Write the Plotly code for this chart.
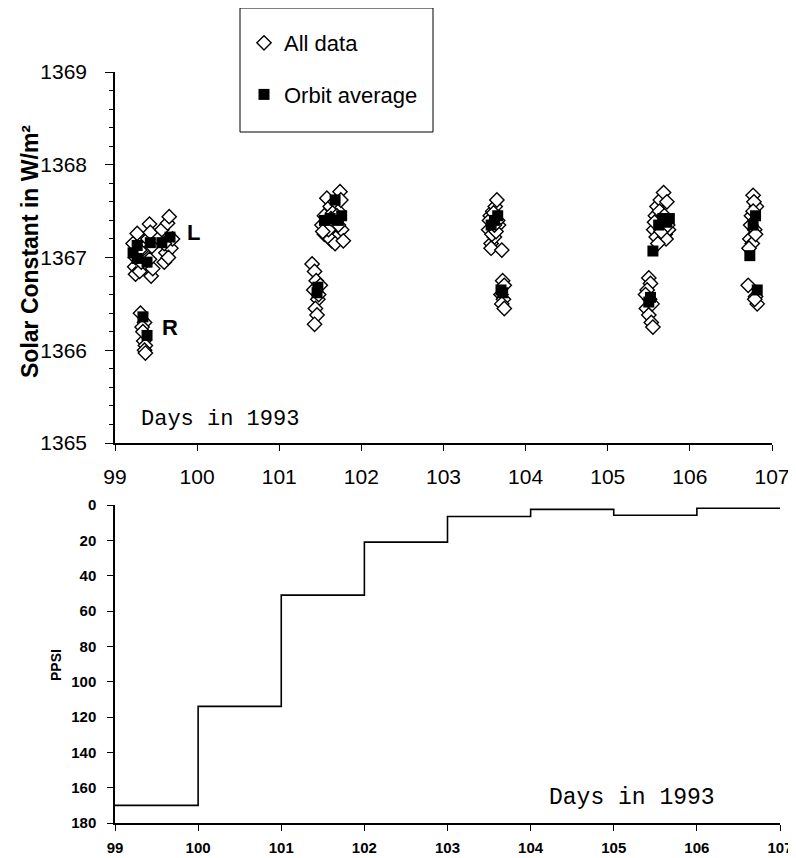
import plotly.graph_objects as go

# ---------------- data ----------------
# All data (diamonds)
all_days = [
    # day 99 upper
    99.22, 99.24, 99.25, 99.27, 99.28, 99.30, 99.32, 99.35, 99.40, 99.42, 99.43, 99.44, 99.46,
    99.57, 99.60, 99.62, 99.64, 99.66, 99.68, 99.70, 99.25, 99.30, 99.42, 99.45, 99.60, 99.65,
    # day 99 lower (R)
    99.31, 99.36, 99.33, 99.35, 99.37, 99.36, 99.37, 99.34,
    # day 101 upper
    101.52, 101.55, 101.58, 101.60, 101.62, 101.64, 101.66, 101.68, 101.70, 101.72, 101.74, 101.76,
    101.55, 101.58, 101.62, 101.65, 101.68, 101.72, 101.75, 101.60, 101.63, 101.70, 101.53, 101.78,
    # day 101 lower
    101.40, 101.43, 101.45, 101.42, 101.47, 101.44, 101.46, 101.43, 101.48, 101.50,
    # day 103 upper
    103.55, 103.57, 103.58, 103.60, 103.62, 103.63, 103.65, 103.67, 103.56, 103.59, 103.61, 103.64,
    103.66, 103.58, 103.62, 103.71,
    # day 103 lower
    103.72, 103.74, 103.70, 103.73, 103.71, 103.74,
    # day 105 upper
    105.56, 105.58, 105.60, 105.62, 105.64, 105.66, 105.68, 105.70, 105.72, 105.74, 105.59, 105.63,
    105.67, 105.71, 105.57, 105.65, 105.69, 105.73, 105.61,
    # day 105 lower
    105.50, 105.52, 105.48, 105.51, 105.47, 105.50, 105.53, 105.55, 105.46, 105.54,
    # day 106 upper
    106.73, 106.75, 106.77, 106.79, 106.81, 106.74, 106.76, 106.78, 106.80, 106.72, 106.77,
    # day 106 lower
    106.71, 106.80, 106.82, 106.79,
]
all_values = [
    1367.15, 1366.90, 1366.82, 1367.26, 1367.05, 1366.85, 1366.95, 1367.10, 1367.20, 1367.36, 1367.27, 1366.80, 1366.88,
    1367.30, 1366.95, 1367.05, 1367.37, 1367.44, 1367.10, 1367.20, 1367.00, 1367.08, 1366.98, 1367.12, 1367.15, 1367.00,
    1366.40, 1366.30, 1366.25, 1366.10, 1366.05, 1366.00, 1365.97, 1366.20,
    1367.35, 1367.45, 1367.64, 1367.25, 1367.55, 1367.18, 1367.30, 1367.60, 1367.22, 1367.50, 1367.71, 1367.30,
    1367.25, 1367.40, 1367.20, 1367.48, 1367.15, 1367.35, 1367.62, 1367.30, 1367.42, 1367.45, 1367.28, 1367.18,
    1366.93, 1366.85, 1366.75, 1366.65, 1366.55, 1366.45, 1366.38, 1366.28, 1366.60, 1366.70,
    1367.30, 1367.45, 1367.15, 1367.50, 1367.22, 1367.55, 1367.62, 1367.35, 1367.40, 1367.25, 1367.48, 1367.28,
    1367.40, 1367.10, 1367.35, 1367.08,
    1366.75, 1366.70, 1366.60, 1366.55, 1366.50, 1366.45,
    1367.30, 1367.45, 1367.55, 1367.20, 1367.62, 1367.35, 1367.70, 1367.25, 1367.60, 1367.30, 1367.22, 1367.50,
    1367.40, 1367.20, 1367.38, 1367.28, 1367.45, 1367.35, 1367.15,
    1366.78, 1366.72, 1366.65, 1366.55, 1366.45, 1366.38, 1366.30, 1366.25, 1366.60, 1366.50,
    1367.20, 1367.45, 1367.67, 1367.30, 1367.55, 1367.35, 1367.15, 1367.60, 1367.25, 1367.10, 1367.50,
    1366.70, 1366.58, 1366.50, 1366.55,
]

# Orbit averages (filled squares)
orbit_days = [
    99.22, 99.27, 99.27, 99.39, 99.43, 99.57, 99.67, 99.34, 99.39,
    101.47, 101.46, 101.55, 101.62, 101.68, 101.72, 101.76,
    103.58, 103.62, 103.66, 103.70, 103.72,
    105.55, 105.50, 105.52, 105.62, 105.67, 105.72, 105.75,
    106.73, 106.77, 106.80, 106.82,
]
orbit_values = [
    1367.05, 1367.13, 1366.99, 1366.95, 1367.16, 1367.16, 1367.22, 1366.36, 1366.16,
    1366.68, 1366.62, 1367.40, 1367.42, 1367.62, 1367.40, 1367.45,
    1367.35, 1367.40, 1367.45, 1366.65, 1366.62,
    1367.07, 1366.52, 1366.57, 1367.35, 1367.42, 1367.38, 1367.42,
    1367.02, 1367.35, 1367.45, 1366.65,
]

# PPSI step profile (value holds from each day to the next)
ppsi_days = [99, 100, 101, 102, 103, 104, 105, 106, 107]
ppsi_values = [170, 114, 51, 21, 6.5, 2.5, 5.8, 1.8, 1.8]

top_x_ticks = [99, 100, 101, 102, 103, 104, 105, 106, 107]
top_y_ticks = [1365, 1366, 1367, 1368, 1369]
bot_y_ticks = [0, 20, 40, 60, 80, 100, 120, 140, 160, 180]

# ---------------- figure ----------------
# The page body adds an 8px margin, so the figure is 8px smaller than the window
OFF = 8
W, H = 796 - OFF, 858 - OFF
SANS = "Liberation Sans, Arial, sans-serif"
MONO = "Liberation Mono, Courier New, monospace"

def px_x(p):
    return (p - OFF) / W

def px_y(p):
    return 1 - (p - OFF) / H

fig = go.Figure()

fig.add_trace(go.Scatter(
    x=all_days, y=all_values, mode="markers", name="All data",
    legendgroup="a",
    marker=dict(symbol="diamond", size=11, color="white",
                line=dict(color="black", width=1.4)),
    xaxis="x", yaxis="y",
))
fig.add_trace(go.Scatter(
    x=orbit_days, y=orbit_values, mode="markers", name="Orbit average",
    legendgroup="b",
    marker=dict(symbol="square", size=11, color="black",
                line=dict(color="black", width=0)),
    xaxis="x", yaxis="y",
))
fig.add_trace(go.Scatter(
    x=ppsi_days, y=ppsi_values, mode="lines", line_shape="hv",
    line=dict(color="black", width=1.6), showlegend=False,
    xaxis="x2", yaxis="y2",
))

axis_common = dict(
    showgrid=False, zeroline=False, showline=True, linecolor="black",
    linewidth=1.5, ticks="outside", tickcolor="black", tickwidth=1.2,
    automargin=False,
)

fig.update_layout(
    template="none",
    width=W, height=H,
    margin=dict(l=0, r=0, t=0, b=0, autoexpand=False),
    paper_bgcolor="white", plot_bgcolor="white",
    showlegend=True,
    legend=dict(
        x=px_x(244), y=px_y(22), xanchor="left", yanchor="top",
        borderwidth=0, bgcolor="rgba(0,0,0,0)",
        font=dict(family=SANS, size=22, color="black"),
        tracegroupgap=20, itemsizing="trace",
    ),
    xaxis=dict(
        **axis_common, domain=[px_x(115), px_x(772)], range=[99, 107],
        tickvals=top_x_ticks, ticklen=6, ticklabelstandoff=8,
        tickfont=dict(family=SANS, size=21, color="black"),
        anchor="y",
    ),
    yaxis=dict(
        **axis_common, domain=[px_y(443), px_y(72)], range=[1365, 1369],
        tickvals=top_y_ticks, ticklen=8, ticklabelstandoff=14,
        tickfont=dict(family=SANS, size=21, color="black"),
        minor=dict(dtick=0.2, ticks="outside", ticklen=4, tickcolor="black", tickwidth=1),
        anchor="x",
    ),
    xaxis2=dict(
        **axis_common, domain=[px_x(115), px_x(780)], range=[99, 107],
        tickvals=top_x_ticks, ticklen=6, ticklabelstandoff=4,
        tickfont=dict(family=SANS, size=15, color="black", weight="bold"),
        anchor="y2",
    ),
    yaxis2=dict(
        **axis_common, domain=[px_y(823), px_y(505)], range=[180, 0],
        tickvals=bot_y_ticks, ticklen=6, ticklabelstandoff=8,
        tickfont=dict(family=SANS, size=15, color="black", weight="bold"),
        anchor="x2",
    ),
    shapes=[
        dict(type="rect", xref="paper", yref="paper",
             x0=px_x(240), x1=px_x(433), y0=px_y(132), y1=px_y(8),
             line=dict(color="black", width=1), fillcolor="rgba(0,0,0,0)",
             layer="above"),
    ],
)

annotations = [
    dict(text="Solar Constant in W/m²", xref="paper", yref="paper",
         x=px_x(30), y=px_y(252), xanchor="center", yanchor="middle",
         textangle=-90, showarrow=False,
         font=dict(family=SANS, size=23, color="black", weight="bold")),
    dict(text="PPSI", xref="paper", yref="paper",
         x=px_x(56), y=px_y(665), xanchor="center", yanchor="middle",
         textangle=-90, showarrow=False,
         font=dict(family=SANS, size=14, color="black", weight="bold")),
    dict(text="Days in 1993", xref="paper", yref="paper",
         x=px_x(220), y=px_y(420), xanchor="center", yanchor="middle",
         showarrow=False,
         font=dict(family=MONO, size=22, color="black")),
    dict(text="Days in 1993", xref="paper", yref="paper",
         x=px_x(632), y=px_y(798), xanchor="center", yanchor="middle",
         showarrow=False,
         font=dict(family=MONO, size=23, color="black")),
    dict(text="L", xref="x", yref="y", x=99.95, y=1367.27, showarrow=False,
         xanchor="center", yanchor="middle",
         font=dict(family=SANS, size=22, color="black", weight="bold")),
    dict(text="R", xref="x", yref="y", x=99.67, y=1366.25, showarrow=False,
         xanchor="center", yanchor="middle",
         font=dict(family=SANS, size=22, color="black", weight="bold")),
]
fig.update_layout(annotations=annotations)

fig.write_html("out.html")
